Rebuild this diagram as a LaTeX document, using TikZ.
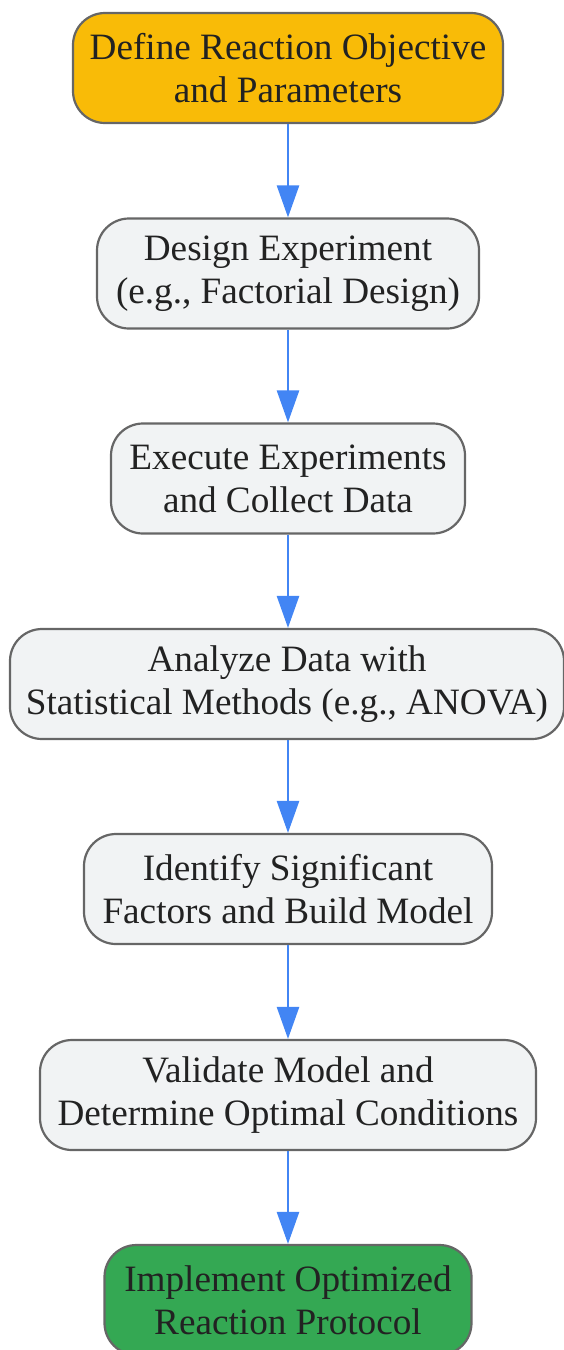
\documentclass[tikz,border=0pt]{standalone}
\usepackage{fontspec}
\setmainfont{Liberation Serif}
\usetikzlibrary{arrows.meta}
\definecolor{bordergray}{HTML}{666666}
\definecolor{boxgray}{HTML}{F1F3F4}
\definecolor{boxorange}{HTML}{F9BB07}
\definecolor{boxgreen}{HTML}{34A853}
\definecolor{arrowblue}{HTML}{4285F4}
\definecolor{textdark}{HTML}{222222}
\tikzset{
  flowbox/.style={draw=bordergray, line width=2.2pt, rounded corners=32pt,
    fill=boxgray, minimum height=110pt, align=center, text=textdark,
    font=\fontsize{37.2}{43}\selectfont, inner sep=0pt},
  flowarrow/.style={draw=arrowblue, line width=2.6pt,
    -{Triangle[length=32pt,width=22pt]}}
}
\begin{document}
\begin{tikzpicture}[x=1pt,y=-1pt]
\useasboundingbox (0,0) rectangle (564,1350);
\node[flowbox, fill=boxorange, minimum width=430pt] (n1) at (288,68) {Define Reaction Objective\\and Parameters};
\node[flowbox, minimum width=382pt] (n2) at (288,273.5) {Design Experiment\\(e.g., Factorial Design)};
\node[flowbox, minimum width=354pt] (n3) at (288,478.5) {Execute Experiments\\and Collect Data};
\node[flowbox, minimum width=554pt] (n4) at (287,684) {Analyze Data with\\Statistical Methods (e.g., ANOVA)};
\node[flowbox, minimum width=408pt] (n5) at (288,889) {Identify Significant\\Factors and Build Model};
\node[flowbox, minimum width=496pt] (n6) at (288,1095) {Validate Model and\\Determine Optimal Conditions};
\node[flowbox, fill=boxgreen, minimum width=367pt] (n7) at (288,1300) {Implement Optimized\\Reaction Protocol};
\draw[flowarrow] (n1.south) -- (n2.north);
\draw[flowarrow] (n2.south) -- (n3.north);
\draw[flowarrow] (n3.south) -- (n4.north -| n3.south);
\draw[flowarrow] (n4.south -| n5.north) -- (n5.north);
\draw[flowarrow] (n5.south) -- (n6.north);
\draw[flowarrow] (n6.south) -- (n7.north);
\end{tikzpicture}
\end{document}
